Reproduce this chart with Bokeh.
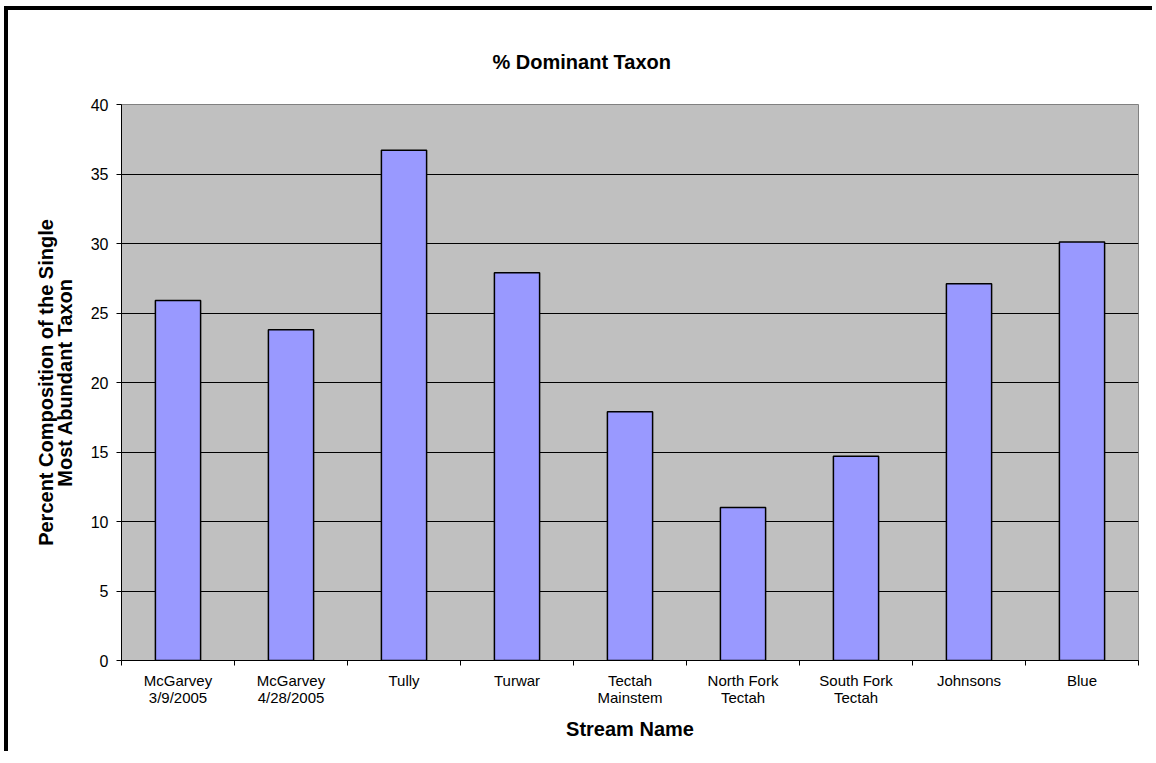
from bokeh.plotting import figure
from bokeh.models import Range1d, FixedTicker
from bokeh.embed import file_html
from bokeh.resources import INLINE

# Stream sites and the share of the single most abundant taxon (%)
streams = [
    "McGarvey\n3/9/2005",
    "McGarvey\n4/28/2005",
    "Tully",
    "Turwar",
    "Tectah\nMainstem",
    "North Fork\nTectah",
    "South Fork\nTectah",
    "Johnsons",
    "Blue",
]
dominant_pct = [25.9, 23.8, 36.7, 27.9, 17.9, 11.0, 14.7, 27.1, 30.1]
y_ticks = [0, 5, 10, 15, 20, 25, 30, 35, 40]

FONT = "Liberation Sans"

positions = list(range(len(streams)))
boundaries = [i - 0.5 for i in range(len(streams) + 1)]

# canvas sits inside a heavy black frame on the left and top
p = figure(
    width=1148, height=745,
    x_range=Range1d(-0.5, len(streams) - 0.5),
    y_range=Range1d(0, 40),
    output_backend="svg", toolbar_location=None,
    min_border_left=113, min_border_right=18,
    min_border_top=94, min_border_bottom=95,
    title="% Dominant Taxon",
)
p.styles = {
    "transform": "translate(8px, 10px)",
    "box-shadow": "-4px -4px 0px 0px black",
}

p.background_fill_color = "#C0C0C0"
p.border_fill_color = "white"
p.outline_line_color = "#808080"
p.outline_line_width = 1

p.title.text_font = FONT
p.title.text_font_size = "20px"
p.title.text_font_style = "bold"
p.title.text_color = "black"
p.title.text_line_height = 1.6
p.title.align = "left"
p.title.offset = 371
p.title.vertical_align = "top"
p.title.standoff = 60

# bars
p.vbar(x=positions, top=dominant_pct, bottom=0, width=0.4,
       fill_color="#9999FF", line_color="black", line_width=1.5)

# y axis
p.yaxis.ticker = FixedTicker(ticks=y_ticks)
p.yaxis.axis_line_color = "black"
p.yaxis.major_tick_line_color = "black"
p.yaxis.major_tick_out = 5
p.yaxis.major_tick_in = 0
p.yaxis.minor_tick_line_color = None
p.yaxis.major_label_text_font = FONT
p.yaxis.major_label_text_font_size = "16px"
p.yaxis.major_label_text_color = "black"
p.yaxis.major_label_standoff = 8
p.yaxis.axis_label = "Percent Composition of the Single\nMost Abundant Taxon"
p.yaxis.axis_label_text_font = FONT
p.yaxis.axis_label_text_font_size = "20px"
p.yaxis.axis_label_text_font_style = "bold"
p.yaxis.axis_label_text_color = "black"
p.yaxis.axis_label_text_line_height = 0.85
p.yaxis.axis_label_standoff = 12

# x axis: labels at bar centres, tick marks between categories
p.xaxis.ticker = FixedTicker(ticks=positions, minor_ticks=boundaries)
p.xaxis.major_label_overrides = {i: s for i, s in zip(positions, streams)}
p.xaxis.axis_line_color = "black"
p.xaxis.major_tick_line_color = None
p.xaxis.major_tick_out = 0
p.xaxis.major_tick_in = 0
p.xaxis.minor_tick_line_color = "black"
p.xaxis.minor_tick_out = 5
p.xaxis.minor_tick_in = 0
p.xaxis.major_label_text_font = FONT
p.xaxis.major_label_text_font_size = "15px"
p.xaxis.major_label_text_color = "black"
p.xaxis.major_label_text_line_height = 1.0
p.xaxis.major_label_standoff = 6
p.xaxis.axis_label = "Stream Name"
p.xaxis.axis_label_text_font = FONT
p.xaxis.axis_label_text_font_size = "20px"
p.xaxis.axis_label_text_font_style = "bold"
p.xaxis.axis_label_text_color = "black"
p.xaxis.axis_label_standoff = 9

p.xgrid.grid_line_color = None
p.ygrid.ticker = FixedTicker(ticks=y_ticks[1:-1])
p.ygrid.grid_line_color = "black"
p.ygrid.grid_line_width = 1

open("out.html", "w").write(file_html(p, INLINE))
